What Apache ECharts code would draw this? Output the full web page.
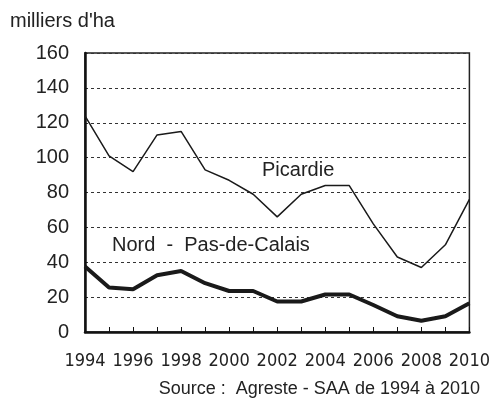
<!DOCTYPE html>
<html>
<head>
<meta charset="utf-8">
<script src="https://cdn.jsdelivr.net/npm/echarts@6/dist/echarts.min.js"></script>
<style>
  html, body { margin: 0; padding: 0; background: #fff; }
  #chart { width: 493px; height: 401px; }
</style>
</head>
<body>
<div id="chart"></div>
<script>
// années et surfaces (milliers d'ha)
var annees = ['1994','1995','1996','1997','1998','1999','2000','2001','2002','2003','2004','2005','2006','2007','2008','2009','2010'];
var picardie = [124, 101, 92, 113, 115, 93, 87, 79, 66, 79, 84, 84, 62, 43, 37, 50, 76];
var nordPdc = [37.5, 25.5, 24.5, 32.5, 35, 28, 23.5, 23.5, 17.5, 17.5, 21.5, 21.5, 15.5, 9, 6.5, 9, 16.5];
var yTicks = [0, 20, 40, 60, 80, 100, 120, 140, 160];

var font = '"Liberation Sans", Arial, sans-serif';
var chart = echarts.init(document.getElementById('chart'));

var option = {
  animation: false,
  backgroundColor: '#fff',
  grid: {
    left: 85, right: 18, top: 53, bottom: 69,
    show: true, borderColor: '#222', borderWidth: 1.5
  },
  xAxis: {
    type: 'category',
    data: annees,
    boundaryGap: false,
    axisLine: { lineStyle: { color: '#111', width: 2.5 } },
    axisTick: { inside: true, length: 5, interval: 0, lineStyle: { color: '#111', width: 1 } },
    axisLabel: { interval: 1, color: '#222', fontFamily: '"Liberation Sans Narrow", "DejaVu Sans Condensed", sans-serif', fontSize: 18, margin: 20 },
    splitLine: { show: false }
  },
  yAxis: {
    type: 'value',
    min: yTicks[0], max: yTicks[yTicks.length - 1], interval: 20,
    axisLine: { show: true, lineStyle: { color: '#111', width: 2.5 } },
    axisTick: { show: false },
    axisLabel: { color: '#222', fontFamily: font, fontSize: 20, margin: 16 },
    splitLine: { show: true, lineStyle: { color: '#333', width: 1, type: [3, 3] } }
  },
  series: [
    {
      name: 'Picardie', type: 'line', data: picardie,
      symbol: 'none', lineStyle: { color: '#1a1a1a', width: 1.5 }
    },
    {
      name: 'Nord - Pas-de-Calais', type: 'line', data: nordPdc,
      symbol: 'none', lineStyle: { color: '#1a1a1a', width: 4 }
    }
  ],
  graphic: [
    { type: 'text', left: 10, top: 11, style: { text: "milliers d'ha", font: '20px ' + font, fill: '#222' } },
    { type: 'text', left: 262, top: 160, style: { text: 'Picardie', font: '20px ' + font, fill: '#222' } },
    { type: 'text', left: 112, top: 235, style: { text: 'Nord  -  Pas-de-Calais', font: '20px ' + font, fill: '#222' } },
    { type: 'text', right: 13, top: 380, style: { text: 'Source :  Agreste - SAA de 1994 à 2010', font: '18px ' + font, fill: '#222' } }
  ]
};
chart.setOption(option);
</script>
</body>
</html>
